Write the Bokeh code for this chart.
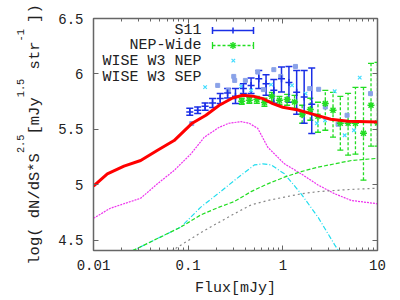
import numpy as np
from bokeh.plotting import figure
from bokeh.models import (FixedTicker, NumeralTickFormatter, LogAxis, LinearAxis,
                          Whisker, TeeHead, ColumnDataSource, Label, Arrow, Title)
from bokeh.embed import file_html
from bokeh.resources import INLINE

# ---------------- data ----------------
s11_flux = [0.104, 0.126, 0.151, 0.181, 0.218, 0.261, 0.316, 0.383, 0.462, 0.557,
            0.665, 0.803, 0.968, 1.16, 1.40, 1.68, 2.02]
s11_val = [5.657, 5.673, 5.709, 5.738, 5.778, 5.828, 5.799, 5.868, 5.897, 5.958,
           5.913, 5.853, 5.958, 5.924, 5.835, 5.792, 5.727]
s11_hi = [5.691, 5.702, 5.738, 5.778, 5.823, 5.868, 5.868, 5.913, 5.963, 6.032,
          5.994, 5.951, 6.062, 6.068, 6.032, 6.032, 6.053]
s11_lo = [5.628, 5.643, 5.673, 5.697, 5.733, 5.783, 5.733, 5.823, 5.823, 5.868,
          5.808, 5.736, 5.837, 5.745, 5.637, 5.556, 5.463]

nep_flux = [0.368, 0.443, 0.531, 0.639, 0.765, 0.921, 1.11, 1.33, 1.60, 1.95,
            2.35, 2.81, 3.39, 4.05, 4.89, 5.85, 7.11, 8.54, 10.0]
nep_val = [5.754, 5.763, 5.769, 5.742, 5.799, 5.763, 5.769, 5.747, 5.634, 5.679,
           5.619, 5.733, 5.673, 5.556, 5.556, 5.556, 5.466, 5.718, 5.558]
nep_hi = [5.781, 5.790, 5.799, 5.781, 5.835, 5.799, 5.817, 5.808, 5.718, 5.781,
          5.745, 5.853, 5.835, 5.799, 5.826, 5.879, 5.879, 6.095, 6.104]
nep_lo = [5.727, 5.736, 5.736, 5.709, 5.754, 5.727, 5.718, 5.691, 5.556, 5.583,
          5.475, 5.493, 5.430, 5.313, 5.268, 5.277, 5.043, 5.349, 5.350]

w3nep_flux = [0.109, 0.205, 0.265, 0.303, 0.310, 0.402, 0.543, 0.623, 0.803, 0.95,
              1.36, 1.92, 2.39, 2.81, 3.83, 4.77, 8.43]
w3nep_val = [5.553, 5.897, 5.853, 5.978, 5.942, 5.942, 6.017, 5.859, 6.039, 5.978,
             6.068, 5.868, 5.862, 5.702, 5.547, 5.628, 5.823]

w3sep_flux = [0.151, 0.300, 0.362, 0.462, 0.752, 1.25, 1.74, 2.29, 2.79, 3.53,
              4.50, 5.64, 6.49]
w3sep_val = [5.882, 6.120, 5.888, 5.853, 5.904, 5.897, 5.823, 5.556, 5.583, 5.844,
             5.448, 5.493, 5.967]

total_x = [0.01, 0.014, 0.021, 0.0315, 0.047, 0.071, 0.109, 0.154, 0.213, 0.295,
           0.377, 0.481, 0.614, 0.783, 1.0, 1.45, 2.15, 3.2, 4.9, 10.0]
total_y = [4.99, 5.10, 5.17, 5.22, 5.31, 5.40, 5.553, 5.628, 5.718, 5.783,
           5.808, 5.80, 5.778, 5.733, 5.70, 5.675, 5.634, 5.592, 5.574, 5.567]

mag_x = [0.01, 0.0151, 0.0209, 0.0315, 0.0473, 0.071, 0.107, 0.148, 0.213, 0.27,
         0.361, 0.44, 0.543, 0.693, 1.04, 1.56, 2.35, 3.53, 5.30, 10.0]
mag_y = [4.70, 4.79, 4.83, 4.88, 5.01, 5.13, 5.28, 5.43, 5.52, 5.556,
         5.57, 5.556, 5.51, 5.34, 5.19, 5.10, 5.00, 4.92, 4.86, 4.83]

cyan_x = [0.02, 0.0836, 0.136, 0.213, 0.307, 0.50, 0.614, 0.752, 1.04, 1.56,
          2.35, 3.53, 4.69]
cyan_y = [4.36, 4.62, 4.80, 4.93, 5.04, 5.18, 5.19, 5.18, 5.10, 4.92,
          4.71, 4.46, 4.30]

grn_x = [0.02, 0.0836, 0.136, 0.213, 0.307, 0.462, 0.693, 1.04, 1.56, 2.35,
         3.53, 5.30, 10.0]
grn_y = [4.36, 4.62, 4.73, 4.80, 4.85, 4.94, 5.01, 5.07, 5.12, 5.16,
         5.19, 5.22, 5.24]

gray_x = [0.06, 0.136, 0.199, 0.307, 0.462, 0.693, 1.04, 1.56, 2.35, 3.53,
          5.30, 10.0]
gray_y = [4.38, 4.57, 4.65, 4.74, 4.82, 4.86, 4.89, 4.92, 4.94, 4.95,
          4.96, 4.97]

x_ticks = [0.01, 0.1, 1, 10]
x_minor = [m * d for d in (0.01, 0.1, 1) for m in range(2, 10)]
y_ticks = [4.5, 5, 5.5, 6, 6.5]

legend_labels = ["S11", "NEP-Wide", "WISE W3 NEP", "WISE W3 SEP"]
x_title = "Flux[mJy]"
NB = "\u00a0"
# main line of the y title, with gaps where the superscripts sit (monospace)
y_title_main = "log( dN/dS*S" + NB * 2 + "[mJy" + NB * 2 + " str" + NB * 2 + "])"
# superscripts, at 2/3 size, aligned char-for-char (1 main char = 1.5 sup chars)
y_title_sup = NB * 18 + "2.5" + NB * 6 + "1.5" + NB * 6 + "-1" + NB * 4

# ---------------- style ----------------
FONT = "Liberation Mono"
BLUE = "#1a2ee6"
GREEN = "#22dd22"
AX = "#666666"
TXT = "#222222"
MAIN_PX = 15.5
SUP_PX = MAIN_PX / 1.5

p = figure(x_axis_type="log", x_range=(0.01, 10), y_range=(4.409, 6.5),
           frame_width=284, frame_height=232,
           min_border_left=93, min_border_right=16, min_border_top=18,
           min_border_bottom=48, output_backend="svg", toolbar_location=None)
p.xgrid.visible = False
p.ygrid.visible = False
p.outline_line_color = AX
p.outline_line_width = 1.5

def style(ax, labels):
    ax.major_tick_in = 5
    ax.major_tick_out = 0
    ax.minor_tick_in = 3
    ax.minor_tick_out = 0
    ax.axis_line_color = AX
    ax.major_tick_line_color = AX
    ax.minor_tick_line_color = AX
    ax.major_label_text_font = FONT
    ax.major_label_text_color = TXT
    ax.major_label_text_font_size = "14px"
    ax.axis_label_text_font = FONT
    ax.axis_label_text_font_style = "normal"
    ax.axis_label_text_color = TXT
    if not labels:
        ax.major_label_text_alpha = 0
        ax.major_label_text_font_size = "2px"
        ax.major_label_standoff = 0

xt = FixedTicker(ticks=x_ticks, minor_ticks=x_minor)
yt = FixedTicker(ticks=y_ticks)

p.xaxis.ticker = xt
p.xaxis.formatter = NumeralTickFormatter(format="0.[00]")
style(p.xaxis[0], True)
p.xaxis.major_label_standoff = 9
p.xaxis.axis_label = x_title
p.xaxis.axis_label_text_font_size = "15px"
p.xaxis.axis_label_standoff = 7

p.yaxis.ticker = yt
p.yaxis.formatter = NumeralTickFormatter(format="0.[0]")
style(p.yaxis[0], True)
p.yaxis.major_label_standoff = 10
p.yaxis.axis_label = y_title_main
p.yaxis.axis_label_text_font_size = f"{MAIN_PX}px"
p.yaxis.axis_label_standoff = 11

top = LogAxis(ticker=xt)
style(top, False)
p.add_layout(top, "above")
right = LinearAxis(ticker=yt)
style(right, False)
p.add_layout(right, "right")

p.add_layout(Title(text=y_title_sup, align="center", text_font=FONT,
                   text_font_size=f"{SUP_PX:.2f}px", text_font_style="normal",
                   text_color=TXT, standoff=-7), "left")

# model curves
p.line(mag_x, mag_y, line_color="#ee33ee", line_width=1.2, line_dash="2 1")
p.line(gray_x, gray_y, line_color="#888888", line_width=1.2, line_dash="2 3")
p.line(cyan_x, cyan_y, line_color="#22ddee", line_width=1.2, line_dash="5 2 1 2")
p.line(grn_x, grn_y, line_color=GREEN, line_width=1.2, line_dash="4 2")

# WISE points
p.scatter(w3nep_flux, w3nep_val, marker="square", size=4,
          fill_color="#8aa2e8", line_color="#8aa2e8")
p.scatter(w3sep_flux, w3sep_val, marker="x", size=5, line_color="#44ddff",
          line_width=1.2)

# NEP-Wide
src_n = ColumnDataSource(dict(x=nep_flux, y=nep_val, hi=nep_hi, lo=nep_lo))
p.add_layout(Whisker(source=src_n, base="x", upper="hi", lower="lo",
                     dimension="height", line_color=GREEN, line_width=1.3,
                     line_dash="3 2",
                     upper_head=TeeHead(size=6, line_color=GREEN, line_width=1.3),
                     lower_head=TeeHead(size=6, line_color=GREEN, line_width=1.3)))
p.scatter("x", "y", source=src_n, marker="asterisk", size=7,
          line_color=GREEN, line_width=1.5)

# S11
src_s = ColumnDataSource(dict(x=s11_flux, y=s11_val, hi=s11_hi, lo=s11_lo))
p.add_layout(Whisker(source=src_s, base="x", upper="hi", lower="lo",
                     dimension="height", line_color=BLUE, line_width=1.5,
                     upper_head=TeeHead(size=7, line_color=BLUE, line_width=1.5),
                     lower_head=TeeHead(size=7, line_color=BLUE, line_width=1.5)))
p.scatter("x", "y", source=src_s, marker="cross", size=7,
          line_color=BLUE, line_width=1.5)

# total model
p.line(total_x, total_y, line_color="#ff0000", line_width=3)

# ---------------- legend (manual, gnuplot-style) ----------------
FL, FB = 93, 250  # frame left / bottom in window px
def sx(X):
    return X - FL
def sy(Y):
    return FB - Y

rows_y = [30, 45, 61, 77]
for lab, ry in zip(legend_labels, rows_y):
    p.add_layout(Label(x=sx(201), y=sy(ry), x_units="screen", y_units="screen",
                       text=lab, text_align="right", text_baseline="middle",
                       text_font=FONT, text_font_size="15px", text_color=TXT))

def seg(x0, y0, x1, y1, color, width, dash="solid", heads=False):
    kw = dict(x_start=sx(x0), y_start=sy(y0), x_end=sx(x1), y_end=sy(y1),
              start_units="screen", end_units="screen",
              line_color=color, line_width=width, line_dash=dash)
    if heads:
        kw["start"] = TeeHead(size=7, line_color=color, line_width=width)
        kw["end"] = TeeHead(size=7, line_color=color, line_width=width)
    else:
        kw["end"] = None
    p.add_layout(Arrow(**kw))

seg(212, 30, 253, 30, BLUE, 1.5, heads=True)
seg(232.5, 27, 232.5, 33, BLUE, 1.5)
seg(212, 45, 253, 45, GREEN, 1.3, dash="3 2", heads=True)
seg(232.5, 41.5, 232.5, 48.5, GREEN, 1.5)
seg(229, 45, 236, 45, GREEN, 1.5)
seg(230, 42.5, 235, 47.5, GREEN, 1.5)
seg(230, 47.5, 235, 42.5, GREEN, 1.5)

open("out.html", "w").write(file_html(p, INLINE))
